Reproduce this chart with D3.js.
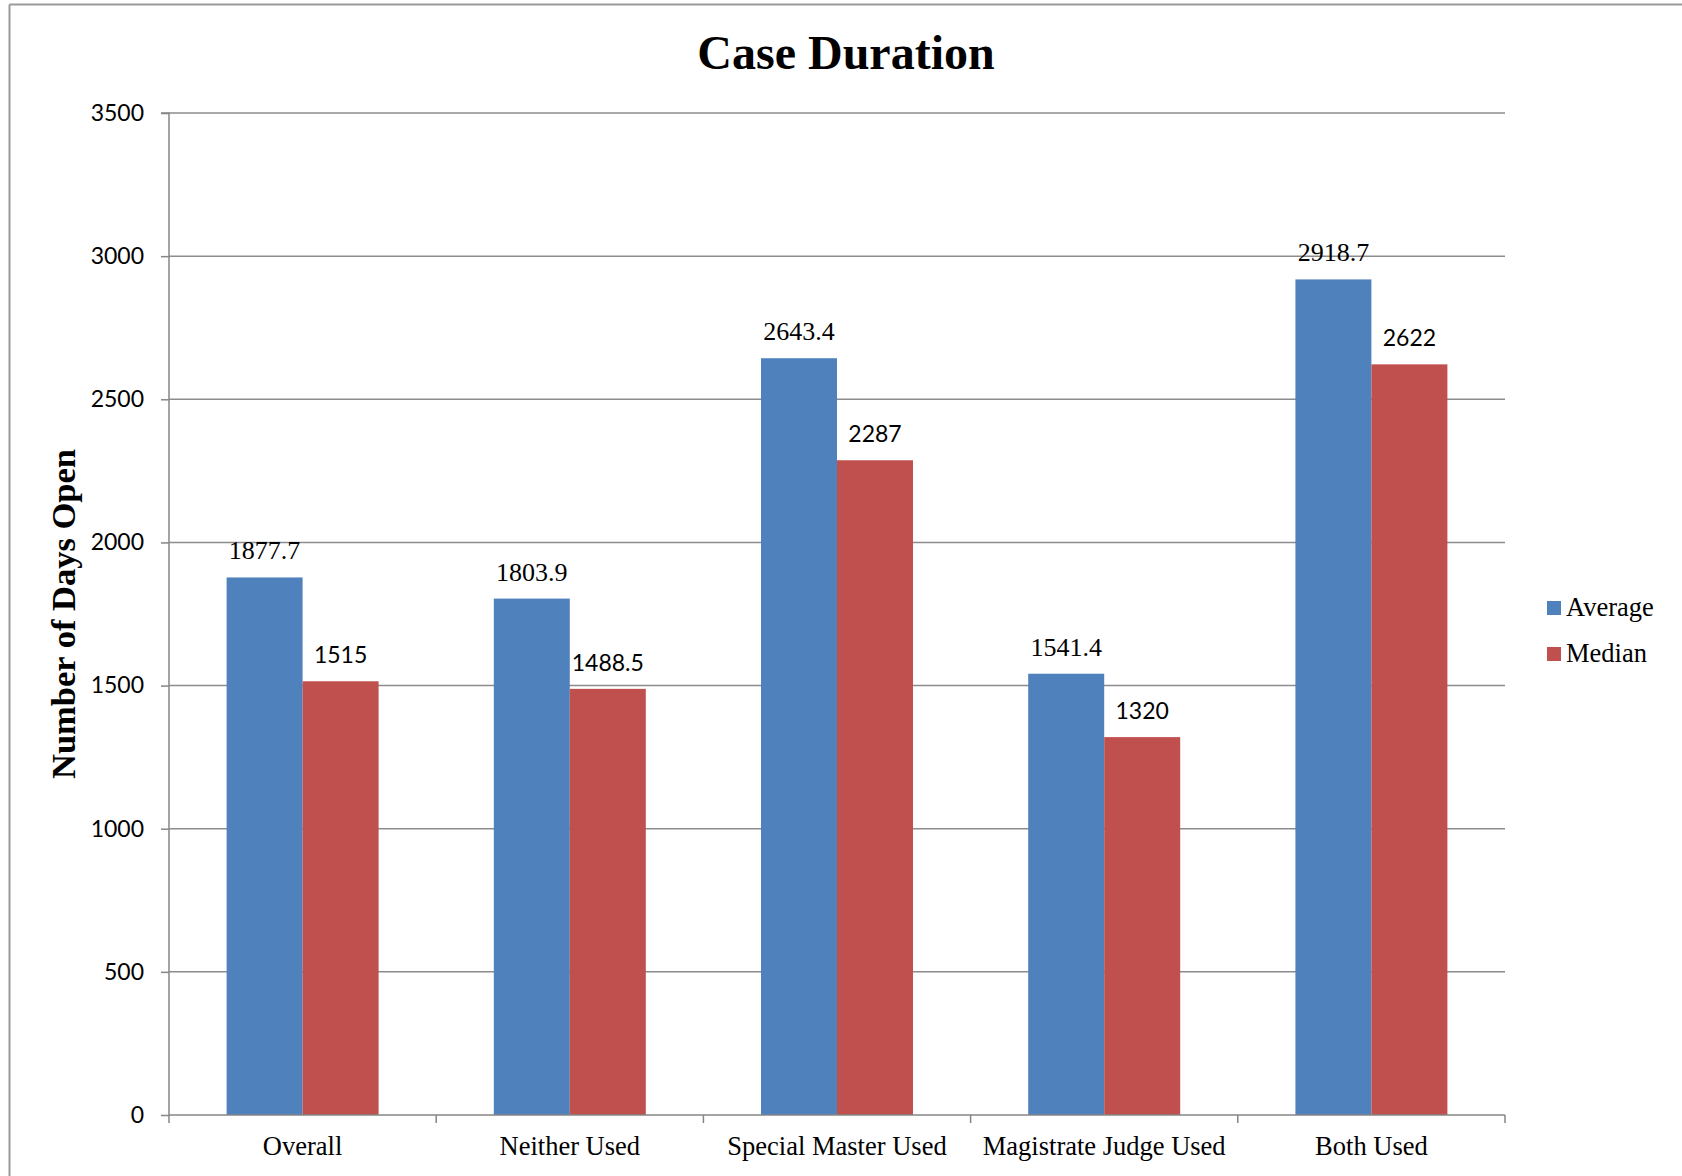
<!DOCTYPE html>
<html>
<head>
<meta charset="utf-8">
<script src="https://cdn.jsdelivr.net/npm/d3@7"></script>
<style>
  html, body { margin: 0; padding: 0; background: #fff; }
  svg { display: block; }
</style>
</head>
<body>
<svg id="chart" width="1682" height="1176"></svg>
<script>
const categories = ["Overall", "Neither Used", "Special Master Used", "Magistrate Judge Used", "Both Used"];
const seriesNames = ["Average", "Median"];
const averageValues = [1877.7, 1803.9, 2643.4, 1541.4, 2918.7];
const medianValues = [1515, 1488.5, 2287, 1320, 2622];
const averageLabels = ["1877.7", "1803.9", "2643.4", "1541.4", "2918.7"];
const medianLabels = ["1515", "1488.5", "2287", "1320", "2622"];
const yTicks = [0, 500, 1000, 1500, 2000, 2500, 3000, 3500];
const colors = ["#4F81BD", "#C0504D"];

(function () {
const serif = "'Liberation Serif', 'Times New Roman', serif";
const sans = "Lato, 'Open Sans', sans-serif";

const svg = d3.select("#chart");
const pLeft = 169, pRight = 1505, pTop = 113, pBottom = 1115;

// outer border (top and left only visible)
svg.append("line").attr("x1", 9.5).attr("x2", 1682).attr("y1", 4.5).attr("y2", 4.5)
  .attr("stroke", "#9a9a9a").attr("stroke-width", 2);
svg.append("line").attr("x1", 9.5).attr("x2", 9.5).attr("y1", 4.5).attr("y2", 1176)
  .attr("stroke", "#9a9a9a").attr("stroke-width", 2);

const x = d3.scaleBand().domain(categories).range([pLeft, pRight]).padding(0);
const xs = d3.scaleBand().domain(seriesNames).range([0, x.bandwidth()]).paddingInner(0).paddingOuter(0.758);
const y = d3.scaleLinear().domain([0, 3500]).range([pBottom, pTop]);

// gridlines
svg.append("g").selectAll("line").data(yTicks.filter(d => d > 0)).join("line")
  .attr("x1", pLeft).attr("x2", pRight)
  .attr("y1", d => y(d)).attr("y2", d => y(d))
  .attr("stroke", "#8c8c8c").attr("stroke-width", 1.5);

// bars
const data = categories.map((c, i) => ({ c, vals: [averageValues[i], medianValues[i]], labs: [averageLabels[i], medianLabels[i]] }));
const groups = svg.append("g").selectAll("g").data(data).join("g")
  .attr("transform", d => `translate(${x(d.c)},0)`);
groups.selectAll("rect").data(d => d.vals.map((v, j) => ({ v, s: seriesNames[j], j }))).join("rect")
  .attr("x", d => xs(d.s)).attr("width", xs.bandwidth())
  .attr("y", d => y(d.v)).attr("height", d => y(0) - y(d.v))
  .attr("fill", d => colors[d.j]);
groups.selectAll("text").data(d => d.vals.map((v, j) => ({ v, s: seriesNames[j], j, lab: d.labs[j] }))).join("text")
  .attr("x", d => xs(d.s) + xs.bandwidth() / 2)
  .attr("y", d => y(d.v) - 18)
  .attr("text-anchor", "middle")
  .attr("font-family", d => d.j === 0 ? serif : sans)
  .attr("font-size", d => d.j === 0 ? 26 : 23)
  .attr("fill", "#000")
  .text(d => d.lab);

// y axis
const yAxis = svg.append("g").attr("transform", `translate(${pLeft},0)`)
  .call(d3.axisLeft(y).tickValues(yTicks).tickSize(8).tickPadding(17).tickFormat(d3.format("d")));
yAxis.selectAll("path, line").attr("stroke", "#868686").attr("stroke-width", 1.5);
yAxis.select(".domain").attr("d", `M-8,${pTop}H0V${pBottom}`);
yAxis.selectAll("text").attr("font-family", sans).attr("font-size", 23).attr("fill", "#000");

// x axis
const xAxis = svg.append("g").attr("transform", `translate(0,${pBottom})`)
  .call(d3.axisBottom(x).tickSize(0).tickPadding(40));
xAxis.select(".domain").attr("d", `M${pLeft},0H${pRight}`).attr("stroke", "#868686").attr("stroke-width", 1.5);
xAxis.selectAll("text").attr("font-family", serif).attr("font-size", 26.5).attr("fill", "#000").attr("dy", null);
const bounds = [pLeft].concat(categories.map(c => x(c) + x.bandwidth()));
xAxis.append("g").selectAll("line").data(bounds).join("line")
  .attr("x1", d => d).attr("x2", d => d).attr("y1", 0).attr("y2", 8)
  .attr("stroke", "#868686").attr("stroke-width", 1.5);

// title
svg.append("text").attr("x", 846).attr("y", 69).attr("text-anchor", "middle")
  .attr("font-family", serif).attr("font-weight", "bold").attr("font-size", 48)
  .text("Case Duration");

// y axis title
svg.append("text").attr("transform", `translate(75,${(pTop + pBottom) / 2}) rotate(-90)`)
  .attr("text-anchor", "middle")
  .attr("font-family", serif).attr("font-weight", "bold").attr("font-size", 34.5)
  .text("Number of Days Open");

// legend
const legend = svg.append("g").selectAll("g").data(seriesNames).join("g")
  .attr("transform", (d, i) => `translate(1547,${601 + i * 46})`);
legend.append("rect").attr("width", 14).attr("height", 14).attr("fill", (d, i) => colors[i]);
legend.append("text").attr("x", 19).attr("y", 15)
  .attr("font-family", serif).attr("font-size", 26.5).text(d => d);
})();
</script>
</body>
</html>
